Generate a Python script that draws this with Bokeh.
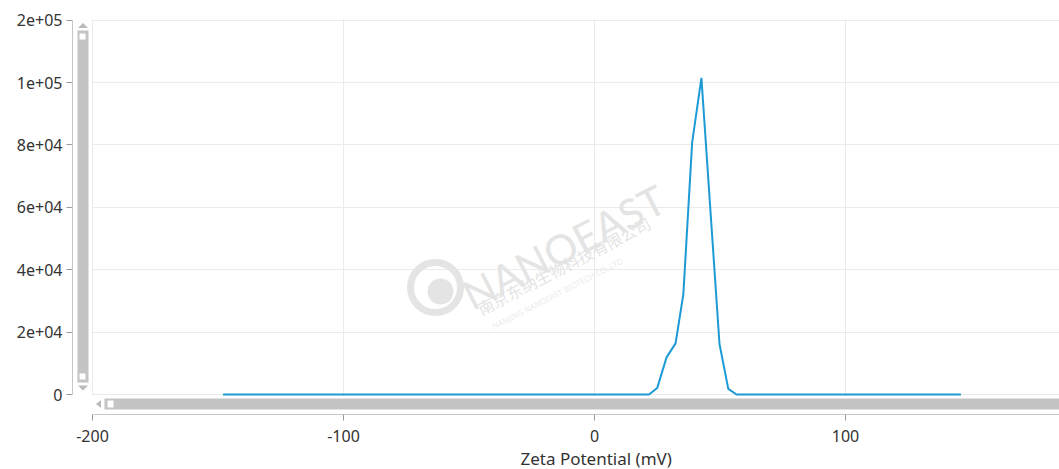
from bokeh.plotting import figure
from bokeh.models import Range1d, FixedTicker, BoxAnnotation, PolyAnnotation, Title
from bokeh.core.properties import value
from bokeh.embed import file_html
from bokeh.resources import INLINE

# ---------------- data ----------------
zeta_mv = [-148.0, 21.7, 25.0, 28.7, 32.3, 35.4, 38.9, 42.6, 49.8, 53.3, 56.6, 146.0]
intensity = [0, 0, 2100, 11900, 16400, 32200, 80700, 101500, 16200, 1800, 0, 0]

y_ticks = [0, 20000, 40000, 60000, 80000, 100000, 120000]
y_tick_labels = ["0", "2e+04", "4e+04", "6e+04", "8e+04", "1e+05", "2e+05"]
x_ticks = [-200, -100, 0, 100]
x_tick_labels = ["-200", "-100", "0", "100"]
x_title = "Zeta Potential (mV)"
wm_brand = "NANOEAST"
wm_cn = "南京东纳生物科技有限公司"
wm_en = "NANJING NANOEAST BIOTECH CO.,LTD"

# ---------------- layout ----------------
W, H = 1059, 469
FL, FT, FB = 72, 19, 55
frame_w = W - FL
frame_h = H - FT - FB
PX_PER_X = 2.51
x_start = -200 - 20 / PX_PER_X
x_end = x_start + frame_w / PX_PER_X
PX_PER_Y = 62.5 / 20000
y_start = -20 / PX_PER_Y
y_end = 120000 + 0.6 / PX_PER_Y

PAGE_FL = FL
PAGE_FB = FT + frame_h


def dx(sx):
    return x_start + (sx - PAGE_FL) * (x_end - x_start) / frame_w


def dy(sy):
    return y_start + (PAGE_FB - sy) * (y_end - y_start) / frame_h


FONT = "Noto Sans"
TXT = "#333333"

p = figure(width=W, height=H, output_backend="svg", toolbar_location=None,
           x_range=Range1d(x_start, x_end), y_range=Range1d(y_start, y_end),
           min_border_left=FL, min_border_right=0, min_border_top=FT,
           min_border_bottom=FB)
p.outline_line_color = None
p.background_fill_color = "white"
p.border_fill_color = "white"

# axes
for ax in (p.xaxis[0], p.yaxis[0]):
    ax.axis_line_color = "#b4b4b4"
    ax.major_tick_line_color = "#9a9a9a"
    ax.minor_tick_line_color = None
    ax.major_tick_out = 6
    ax.major_tick_in = 0
    ax.major_label_text_font = FONT
    ax.major_label_text_font_size = "16px"
    ax.major_label_text_color = TXT

p.yaxis[0].ticker = FixedTicker(ticks=y_ticks)
p.yaxis[0].major_label_overrides = dict(zip(y_ticks, y_tick_labels))
p.yaxis[0].bounds = (0, 120000)
p.yaxis[0].major_label_standoff = 4

p.xaxis[0].ticker = FixedTicker(ticks=x_ticks)
p.xaxis[0].major_label_overrides = dict(zip(x_ticks, x_tick_labels))
p.xaxis[0].bounds = (-200, x_end)
p.xaxis[0].major_label_standoff = 9

p.xgrid[0].ticker = FixedTicker(ticks=x_ticks)
p.ygrid[0].ticker = FixedTicker(ticks=y_ticks)
p.xgrid[0].grid_line_color = "#ebebeb"
p.ygrid[0].grid_line_color = "#ebebeb"

p.add_layout(Title(text=x_title, align="left", offset=448, standoff=0,
                   text_font=FONT, text_font_size="17px",
                   text_font_style="normal", text_color=TXT), "below")

# watermark
WM = "#e4e4e4"
ANG = 0.475
p.text(x=[dx(465)], y=[dy(297)], text=[wm_brand], angle=ANG,
       text_font=value("Lato"), text_font_size="41px", text_color=WM,
       text_baseline="alphabetic", text_align="left")
p.text(x=[dx(478)], y=[dy(309)], text=[wm_cn], angle=ANG,
       text_font=value("Noto Sans CJK SC"), text_font_size="16px", text_color=WM,
       text_baseline="alphabetic", text_align="left")
p.text(x=[dx(492)], y=[dy(326)], text=[wm_en], angle=ANG,
       text_font=value("Noto Sans"), text_font_size="8px", text_color="#ececec",
       text_baseline="alphabetic", text_align="left")
p.scatter(x=[dx(435)], y=[dy(287)], marker="circle", size=50, fill_color=None,
          line_color=WM, line_width=7)
p.scatter(x=[dx(440)], y=[dy(291)], marker="circle", size=26, fill_color=WM,
          line_color=None)

# data line
p.line(zeta_mv, intensity, line_color="#1c9ad6", line_width=2)

# white covers to keep the grid inside the plotting area
p.add_layout(BoxAnnotation(right=dx(91.5), fill_color="white", fill_alpha=1,
                           line_color=None))
p.add_layout(BoxAnnotation(top=dy(395.5), fill_color="white", fill_alpha=1,
                           line_color=None))

# scrollbar chrome
BAR = "#c4c4c4"
ARR = "#bababa"
p.add_layout(BoxAnnotation(left=dx(77), right=dx(88), top=dy(30), bottom=dy(382),
                           fill_color=BAR, fill_alpha=1, line_color=None))
p.add_layout(BoxAnnotation(left=dx(79), right=dx(85), top=dy(33), bottom=dy(39),
                           fill_color="white", fill_alpha=1, line_color=None))
p.add_layout(BoxAnnotation(left=dx(79), right=dx(85), top=dy(373), bottom=dy(379),
                           fill_color="white", fill_alpha=1, line_color=None))
p.add_layout(PolyAnnotation(xs=[dx(77.5), dx(82.5), dx(87.5)], ys=[dy(27.5), dy(22.5), dy(27.5)],
                            fill_color=ARR, fill_alpha=1, line_color=None))
p.add_layout(PolyAnnotation(xs=[dx(77.5), dx(82.5), dx(87.5)], ys=[dy(385), dy(390), dy(385)],
                            fill_color=ARR, fill_alpha=1, line_color=None))

p.add_layout(BoxAnnotation(left=dx(104), right=x_end, top=dy(398), bottom=dy(409),
                           fill_color=BAR, fill_alpha=1, line_color=None))
p.add_layout(BoxAnnotation(left=dx(107), right=dx(113), top=dy(400), bottom=dy(407),
                           fill_color="white", fill_alpha=1, line_color=None))
p.add_layout(PolyAnnotation(xs=[dx(100.5), dx(95.5), dx(100.5)], ys=[dy(399.5), dy(403.5), dy(407.5)],
                            fill_color=ARR, fill_alpha=1, line_color=None))

open("out.html", "w").write(file_html(p, INLINE))
